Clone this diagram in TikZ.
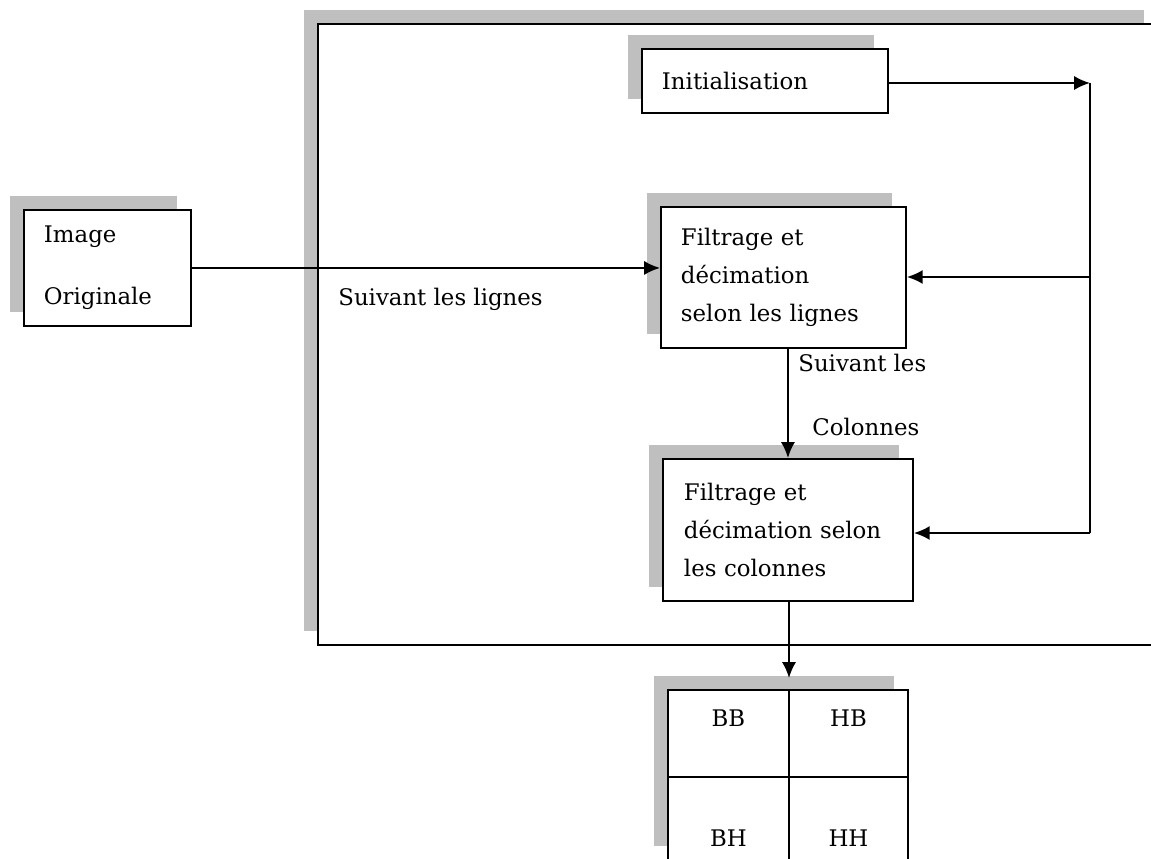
\documentclass[tikz,border=0pt]{standalone}
\usepackage{fontspec}
\setmainfont{DejaVu Serif}
\usetikzlibrary{arrows.meta,shadows}

\definecolor{shadowgray}{HTML}{BFBFBF}

% one unit = one pixel of the layout grid, y grows downwards
\tikzset{
  x=0.02cm, y=-0.02cm,
  txt/.style={font=\fontsize{13}{21.4}\selectfont},
  block/.style={draw=black, line width=1.1pt, fill=white, rectangle,
    anchor=north west, inner ysep=0pt, inner xsep=0.4cm, align=left, txt,
    general shadow={fill=shadowgray, shadow xshift=-0.28cm, shadow yshift=0.28cm}},
  cell/.style={block, inner xsep=0pt, align=center},
  link/.style={draw=black, line width=1.1pt},
  arrow/.style={link, -{Latex[length=9pt,width=8pt]}},
  caption/.style={txt, anchor=base west, inner sep=0pt},
}

\begin{document}
\begin{tikzpicture}
\useasboundingbox (0,0) rectangle (1151,858);

% enclosing processing stage
\node[block, minimum width=16.8cm, minimum height=12.42cm] (system) at (317,23) {};

% input image
\node[block, minimum width=3.34cm, minimum height=2.32cm, text width=2.54cm]
  (img) at (23,209) {Image\\[13.9pt]Originale};

% processing blocks
\node[block, minimum width=4.92cm, minimum height=1.28cm, text width=4.12cm]
  (init) at (641,48) {Initialisation};
\node[block, minimum width=4.9cm, minimum height=2.82cm, text width=4.1cm]
  (filt1) at (660,206) {Filtrage et\\d\'ecimation\\\mbox{selon les lignes}};
\node[block, minimum width=5.0cm, minimum height=2.84cm, text width=4.16cm]
  (filt2) at (662,458) {Filtrage et\\\mbox{d\'ecimation selon}\\les colonnes};

% sub-band grid (drawn bottom-right first so every shadow stays behind the cells)
\node[cell, minimum width=2.38cm, minimum height=1.66cm, text height=34pt, text depth=1.6pt]
  (hh) at (788,776) {HH};
\node[cell, minimum width=2.42cm, minimum height=1.66cm, text height=34pt, text depth=1.6pt]
  (bh) at (667,776) {BH};
\node[cell, minimum width=2.38cm, minimum height=1.74cm, text height=7pt, text depth=14.4pt]
  (hb) at (788,689) {HB};
\node[cell, minimum width=2.42cm, minimum height=1.74cm, text height=7pt, text depth=14.4pt]
  (bb) at (667,689) {BB};

% feedback rail
\coordinate (railtop) at (1090,83);
\coordinate (railmid) at (1090,277);
\coordinate (railbot) at (1090,533);
\coordinate (gridtop) at (789,678);

% connectors
\draw[arrow] (img.east) -- (img.east -| filt1.west);
\draw[arrow] (init.east |- railtop) -- (railtop);
\draw[link] (railtop) -- (railbot);
\draw[arrow] (railmid) -- (railmid -| filt1.east);
\draw[arrow] (railbot) -- (railbot -| filt2.east);
\draw[arrow] (filt2.north |- filt1.south) -- (filt2.north);
\draw[arrow] (gridtop |- filt2.south) -- (gridtop);

% connector captions
\node[caption] (rows) at (338,305) {Suivant les lignes};
\node[caption] (cols1) at (798,371) {Suivant les};
\node[caption] (cols2) at (812,435) {Colonnes};
\end{tikzpicture}
\end{document}
